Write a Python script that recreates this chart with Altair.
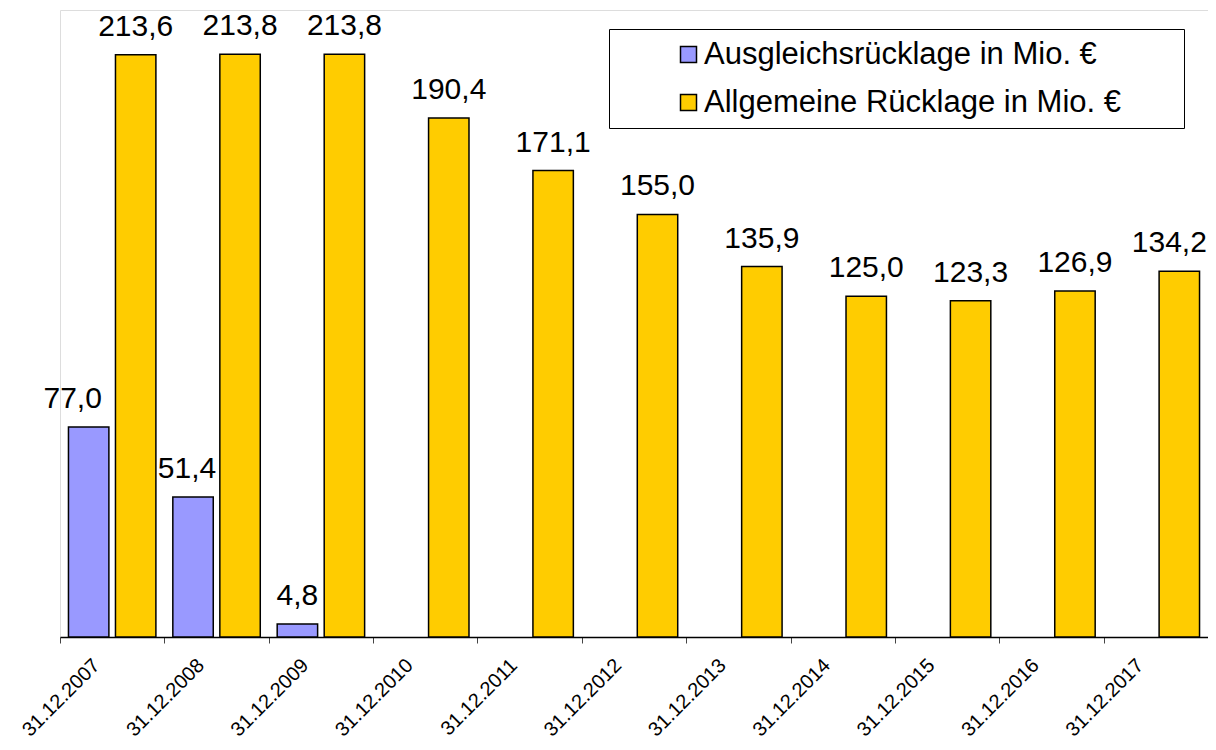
import altair as alt
import pandas as pd

dates = ["31.12.2007", "31.12.2008", "31.12.2009", "31.12.2010", "31.12.2011",
         "31.12.2012", "31.12.2013", "31.12.2014", "31.12.2015", "31.12.2016", "31.12.2017"]
ausgleich = [77.0, 51.4, 4.8, None, None, None, None, None, None, None, None]
allgemein = [213.6, 213.8, 213.8, 190.4, 171.1, 155.0, 135.9, 125.0, 123.3, 126.9, 134.2]
series_names = ["Ausgleichsrücklage in Mio. €", "Allgemeine Rücklage in Mio. €"]
colors = ["#9999FF", "#FFCC00"]

rows = []
for d, a, b in zip(dates, ausgleich, allgemein):
    if a is not None:
        rows.append({"Datum": d, "Reihe": series_names[0], "Wert": a})
    rows.append({"Datum": d, "Reihe": series_names[1], "Wert": b})
df = pd.DataFrame(rows)
df["Label"] = df["Wert"].map(lambda v: f"{v:.1f}".replace(".", ","))

FONT = "Liberation Sans"

x_enc = alt.X(
    "Datum:N", sort=dates,
    scale=alt.Scale(paddingInner=0, paddingOuter=0),
    axis=alt.Axis(
        title=None, labelAngle=-45, labelAlign="right", labelBaseline="middle",
        labelFontSize=20, labelFont=FONT, labelColor="black",
        labelOffset=-16, labelPadding=19, tickBand="extent",
        domainColor="black", domainWidth=1.5, tickColor="#444444",
        tickSize=6, tickWidth=1, grid=False,
    ),
)
xo_enc = alt.XOffset(
    "Reihe:N", sort=series_names,
    scale=alt.Scale(domain=series_names, paddingInner=0.14, paddingOuter=0.18),
)
y_enc = alt.Y("Wert:Q", scale=alt.Scale(domain=[0, 230], nice=False, zero=True), axis=None)

color_enc = alt.Color(
    "Reihe:N", sort=series_names,
    scale=alt.Scale(domain=series_names, range=colors),
    legend=alt.Legend(
        title=".", titleOrient="right", titleColor="white", titleFontSize=2,
        titlePadding=52,
        orient="none", legendX=549, legendY=19, direction="vertical",
        labelFontSize=31, labelFont=FONT, labelColor="black", labelLimit=1000,
        symbolType="square", symbolSize=256, symbolStrokeColor="black",
        symbolStrokeWidth=1.5, symbolOffset=54, labelOffset=0, rowPadding=16,
        padding=10, strokeColor="black", fillColor="white",
    ),
)

base = alt.Chart(df)

bars = base.mark_bar(stroke="black", strokeWidth=1.5).encode(
    x=x_enc, xOffset=xo_enc, y=y_enc, color=color_enc
)

text_kw = dict(baseline="alphabetic", align="center", fontSize=30, font=FONT, color="black")

# small horizontal nudges of individual value labels, as in the original chart
nudges = [
    (dates[0], series_names[0], -16),
    (dates[1], series_names[0], -6),
    (dates[-1], series_names[1], -10),
]


def sel(d, s):
    return (alt.datum.Datum == d) & (alt.datum.Reihe == s)


nudged = None
for d, s, _ in nudges:
    nudged = sel(d, s) if nudged is None else (nudged | sel(d, s))

layers = [bars]
layers.append(
    base.mark_text(dy=-19, **text_kw).encode(
        x=x_enc, xOffset=xo_enc, y=y_enc, text="Label:N"
    ).transform_filter(~nudged)
)
for d, s, dx in nudges:
    layers.append(
        base.mark_text(dy=-19, dx=dx, **text_kw).encode(
            x=x_enc, xOffset=xo_enc, y=y_enc, text="Label:N"
        ).transform_filter(sel(d, s))
    )

chart = alt.layer(*layers).properties(
    width=1148, height=627,
    autosize=alt.AutoSizeParams(type="none"),
    padding={"left": 52, "top": 2, "right": 0, "bottom": 105},
).configure_view(stroke=None).configure(background="white")

chart.save("out.html", embed_options={"renderer": "svg", "actions": False})
